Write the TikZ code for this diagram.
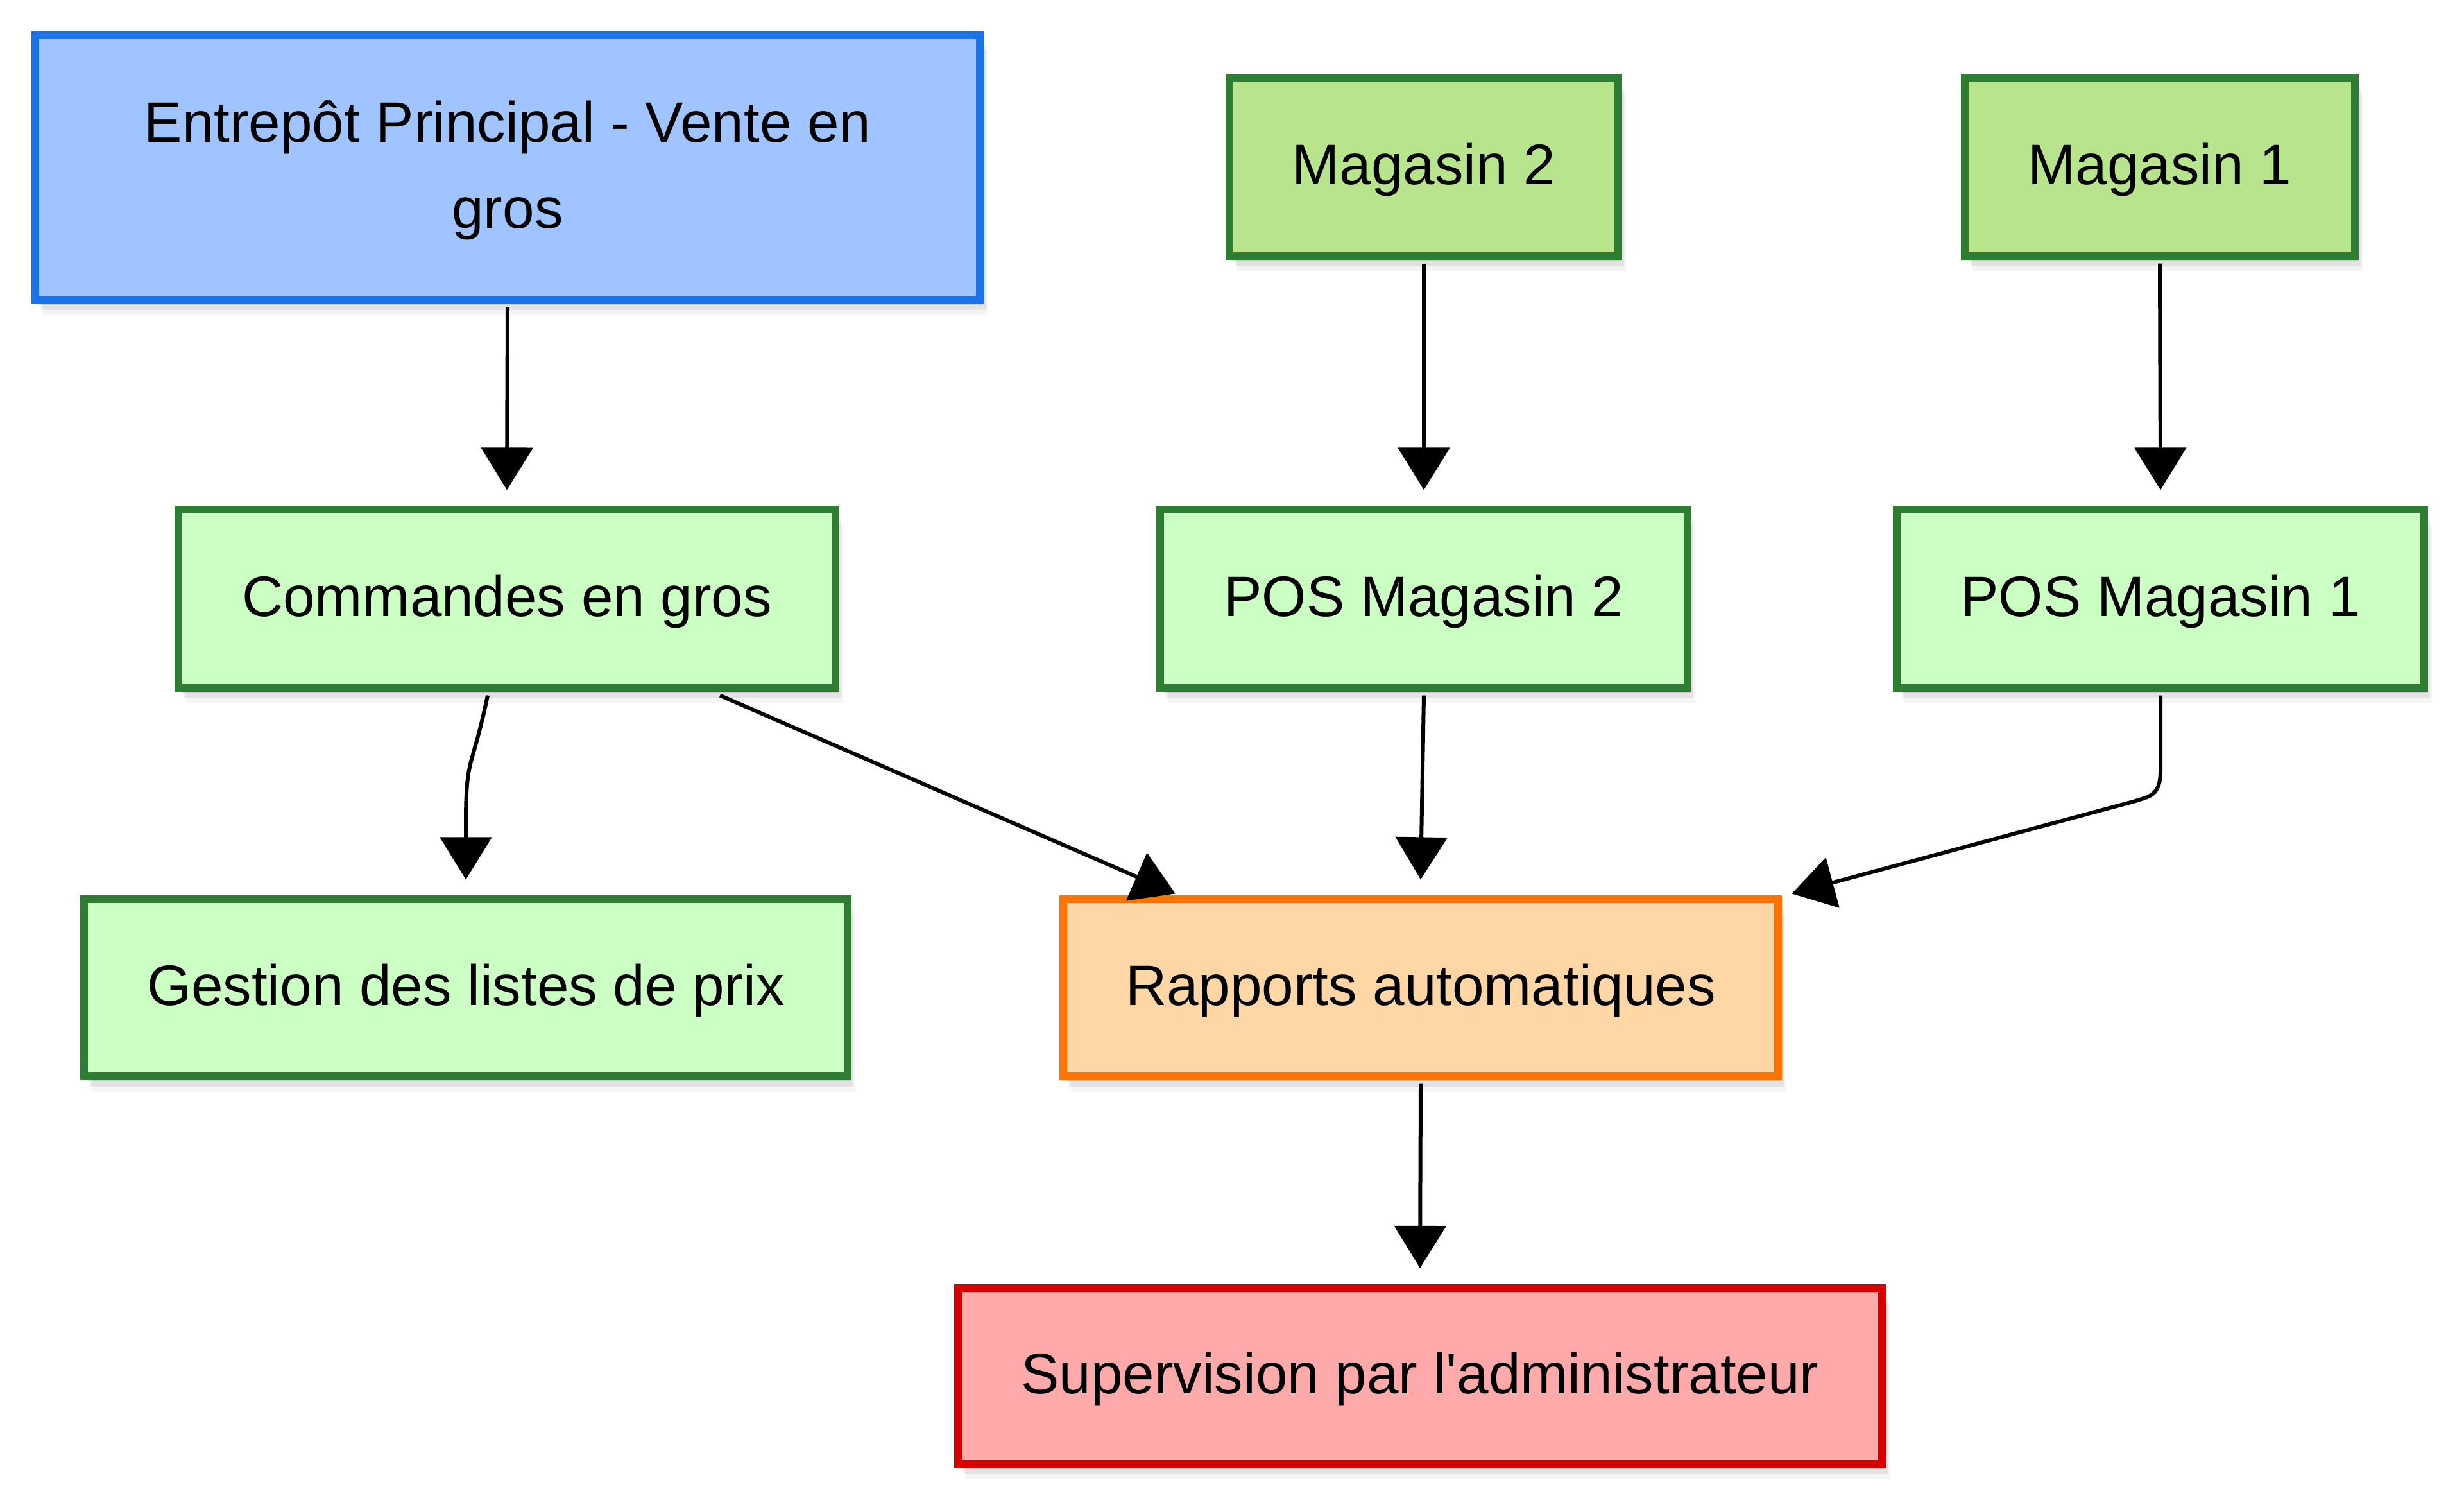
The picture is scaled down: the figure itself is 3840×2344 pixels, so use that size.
\documentclass[tikz,border=0pt]{standalone}
\usepackage{fontspec}
\setmainfont{Liberation Sans}
\usetikzlibrary{shadows,arrows.meta}
\definecolor{bluefill}{RGB}{160,196,255}
\definecolor{blueline}{RGB}{26,115,232}
\definecolor{darkgreenfill}{RGB}{184,228,142}
\definecolor{greenline}{RGB}{46,125,50}
\definecolor{lightgreenfill}{RGB}{204,255,196}
\definecolor{orangefill}{RGB}{255,214,165}
\definecolor{orangeline}{RGB}{255,115,0}
\definecolor{redfill}{RGB}{255,170,170}
\definecolor{redline}{RGB}{214,0,0}
\tikzset{
  box/.style={draw, line width=0.12cm, align=center, inner sep=0pt,
    font=\fontsize{25.3}{38}\selectfont, text height=0.66cm, text depth=0.12cm,
    general shadow={shadow xshift=0.05cm, shadow yshift=-0.08cm, fill=black, opacity=0.10},
    general shadow={shadow xshift=0.09cm, shadow yshift=-0.16cm, fill=black, opacity=0.07},
    general shadow={shadow xshift=0.12cm, shadow yshift=-0.24cm, fill=black, opacity=0.04}},
  mainbox/.style={box, fill=bluefill, draw=blueline},
  storebox/.style={box, fill=darkgreenfill, draw=greenline},
  greenbox/.style={box, fill=lightgreenfill, draw=greenline},
  orangebox/.style={box, fill=orangefill, draw=orangeline},
  redbox/.style={box, fill=redfill, draw=redline},
  arr/.style={draw=black, line width=0.06cm, -{Triangle[length=0.66cm,width=0.8cm]}}
}
\begin{document}
\begin{tikzpicture}[x=0.01cm,y=-0.01cm]
\fill[white] (0,0) rectangle (3840,2344);
\useasboundingbox (0,0) rectangle (3840,2344);

\node[mainbox, minimum width=14.72cm, minimum height=4.12cm, text height=2.0cm, text depth=0.12cm] (ent) at (791,261) {Entrepôt Principal - Vente en\\gros};
\node[storebox, minimum width=6.05cm, minimum height=2.77cm] (mag2) at (2219,260) {Magasin 2};
\node[storebox, minimum width=6.08cm, minimum height=2.77cm] (mag1) at (3366,260) {Magasin 1};
\node[greenbox, minimum width=10.24cm, minimum height=2.77cm] (cmd) at (790,933) {Commandes en gros};
\node[greenbox, minimum width=8.21cm, minimum height=2.77cm] (pos2) at (2219,933) {POS Magasin 2};
\node[greenbox, minimum width=8.21cm, minimum height=2.77cm] (pos1) at (3367,933) {POS Magasin 1};
\node[greenbox, minimum width=11.90cm, minimum height=2.75cm] (gest) at (726,1539) {Gestion des listes de prix};
\node[orangebox, minimum width=11.14cm, minimum height=2.75cm] (rap) at (2214,1539) {Rapports automatiques};
\node[redbox, minimum width=14.40cm, minimum height=2.74cm] (sup) at (2213,2144) {Supervision par l\textquotesingle administrateur};

\draw[arr] ([yshift=-0.06cm]ent.south) -- ([yshift=0.25cm]cmd.north);
\draw[arr] ([yshift=-0.06cm]mag2.south) -- ([yshift=0.25cm]pos2.north);
\draw[arr] ([yshift=-0.06cm]mag1.south) -- ([yshift=0.25cm]pos1.north);
\draw[arr] ([xshift=-0.3cm,yshift=-0.06cm]cmd.south) .. controls ++(-25,120) and ([yshift=2.2cm]gest.north) .. ([yshift=1.1cm]gest.north) -- ([yshift=0.25cm]gest.north);
\draw[arr] ([xshift=3.32cm,yshift=-0.06cm]cmd.south) -- ([xshift=-3.82cm,yshift=0.03cm]rap.north);
\draw[arr] ([yshift=-0.06cm]pos2.south) -- ([yshift=0.25cm]rap.north);
\draw[arr] ([yshift=-0.06cm]pos1.south) -- ++(0,116) .. controls ++(0,40) and ++(25,-8) .. ++(-41,49) -- ([xshift=0.15cm,yshift=0.03cm]rap.north east);
\draw[arr] ([yshift=-0.06cm]rap.south) -- ([yshift=0.25cm]sup.north);
\end{tikzpicture}
\end{document}
